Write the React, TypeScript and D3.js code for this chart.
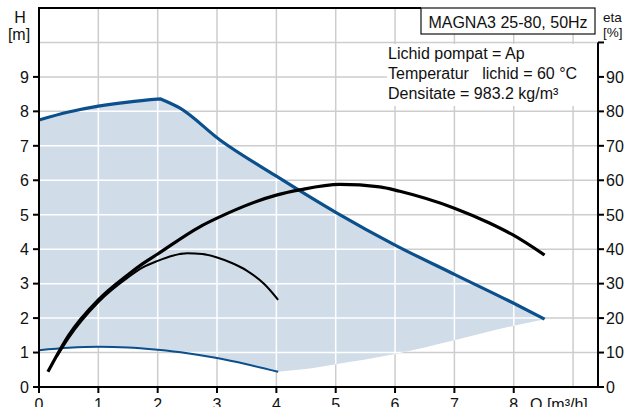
import React from "react";
import * as d3 from "d3";

// ---- data ----
const maxLeftQ = [0, 0.5, 1, 1.5, 2.05];
const maxLeftH = [7.75, 7.98, 8.15, 8.27, 8.36];
const maxRightQ = [2.05, 2.37, 3.05, 4, 5, 6, 7, 8, 8.52];
const maxRightH = [8.36, 8.1, 7.17, 6.12, 5.07, 4.12, 3.27, 2.43, 1.97];

const minCurveQ = [0, 0.5, 1, 1.5, 2, 2.5, 3, 3.5, 4.03];
const minCurveH = [1.07, 1.14, 1.17, 1.15, 1.08, 0.98, 0.84, 0.66, 0.44];

const lowerEdgeQ = [4.03, 4.7, 5, 6, 7, 8, 8.52];
const lowerEdgeH = [0.44, 0.57, 0.66, 0.96, 1.36, 1.78, 1.97];

const etaBigQ = [0.15, 0.5, 1, 1.5, 1.75, 2, 2.71, 3, 4, 4.39, 5.07, 5.74, 6.08, 7, 7.59, 7.98, 8.52];
const etaBigV = [4.4, 15, 25.3, 32.6, 35.8, 38.6, 46.5, 49, 55.7, 57.2, 58.8, 58.1, 56.8, 51.9, 47.6, 44.2, 38.3];

const etaSmallQ = [0.3, 0.5, 1, 1.5, 1.75, 2, 2.25, 2.5, 2.75, 3, 3.25, 3.5, 3.8, 4.03];
const etaSmallV = [8.8, 14.2, 24.6, 31.8, 34.7, 36.6, 38.1, 38.8, 38.6, 37.6, 36, 33.8, 29.8, 25.3];

const xTicks = [0, 1, 2, 3, 4, 5, 6, 7, 8];
const xGrid = [1, 2, 3, 4, 5, 6, 7, 8, 9];
const hTicks = [0, 1, 2, 3, 4, 5, 6, 7, 8, 9];
const hGrid = [1, 2, 3, 4, 5, 6, 7, 8, 9, 10];
const etaTicks = [0, 10, 20, 30, 40, 50, 60, 70, 80, 90];

const titleText = "MAGNA3 25-80, 50Hz";
const infoLines = ["Lichid pompat = Ap", "Temperatur   lichid = 60 °C", "Densitate = 983.2 kg/m³"];

const BLUE = "#0b4f8c";
const FILL = "#d0dce8";
const GRID = "#cdcdcd";
const FONT = "'Liberation Sans', Arial, sans-serif";

type P = [number, number];

export default function App() {
  const W = 633, H = 407;
  const x0 = 39, x1 = 598, y0 = 387, y1 = 8;
  const x = d3.scaleLinear().domain([0, 9.42]).range([x0, x1]);
  const y = d3.scaleLinear().domain([0, 11]).range([y0, y1]);
  const ye = d3.scaleLinear().domain([0, 110]).range([y0, y1]);

  const zip = (a: number[], b: number[]): P[] => a.map((q, i) => [q, b[i]]);
  const maxL = zip(maxLeftQ, maxLeftH);
  const maxR = zip(maxRightQ, maxRightH);
  const minPts = zip(minCurveQ, minCurveH);
  const lowPts = zip(lowerEdgeQ, lowerEdgeH);

  const smooth = d3.line<P>().x(d => x(d[0])).y(d => y(d[1])).curve(d3.curveMonotoneX);
  const etaLine = d3.line<P>().x(d => x(d[0])).y(d => ye(d[1])).curve(d3.curveMonotoneX);

  const pL = smooth(maxL) || "";
  const pR = smooth(maxR) || "";
  const maxPath = pL + "L" + pR.slice(1);
  const lowRev = smooth(lowPts.slice().reverse()) || "";
  const minRev = smooth(minPts.slice().reverse()) || "";
  const areaPath = maxPath + "L" + lowRev.slice(1) + "L" + minRev.slice(1) + "Z";

  const bigPts = zip(etaBigQ, etaBigV);
  const smallPts = zip(etaSmallQ, etaSmallV);

  const gridLines = (stroke: string) => (
    <g stroke={stroke} strokeWidth={1.5}>
      {xGrid.map(v => <line key={"vx" + v} x1={x(v)} x2={x(v)} y1={y1} y2={y0} />)}
      {hGrid.map(v => <line key={"hy" + v} x1={x0} x2={x1} y1={y(v)} y2={y(v)} />)}
    </g>
  );

  return (
    <svg width={W} height={H} style={{ position: "fixed", left: 0, top: 0, background: "#fff" }} fontFamily={FONT}>
      <defs>
        <clipPath id="areaClip"><path d={areaPath} /></clipPath>
      </defs>
      <rect x={0} y={0} width={W} height={H} fill="#fff" />
      {gridLines(GRID)}
      <path d={areaPath} fill={FILL} stroke="none" />
      <g clipPath="url(#areaClip)">{gridLines("#ffffff")}</g>

      {/* info text background */}
      <rect x={387} y={44} width={210} height={62} fill="#fff" />
      {infoLines.map((t, i) => (
        <text key={t} x={388} y={58.5 + i * 20} fontSize={16} fill="#111" style={{ whiteSpace: "pre" }}>{t}</text>
      ))}

      {/* title box */}
      <rect x={421} y={8} width={174} height={26} fill="#fff" stroke="#111" strokeWidth={1.2} />
      <text x={508} y={27.5} fontSize={16} textAnchor="middle" fill="#111">{titleText}</text>

      {/* curves */}
      <path d={maxPath} fill="none" stroke={BLUE} strokeWidth={3.2} strokeLinejoin="round" />
      <path d={smooth(minPts) || ""} fill="none" stroke={BLUE} strokeWidth={2} />
      <path d={etaLine(smallPts) || ""} fill="none" stroke="#000" strokeWidth={2} />
      <path d={etaLine(bigPts) || ""} fill="none" stroke="#000" strokeWidth={3.2} />

      {/* axes frame */}
      <g stroke="#000" strokeWidth={2}>
        <line x1={x0} x2={x0} y1={y1 - 1} y2={y0 + 1} />
        <line x1={x0} x2={x1 + 1} y1={y0} y2={y0} />
        <line x1={x0} x2={421} y1={y1} y2={y1} />
        <line x1={x1} x2={x1} y1={ye(100)} y2={y0 + 1} />
        {hTicks.map(v => <line key={"lt" + v} x1={x0 - 6} x2={x0} y1={y(v)} y2={y(v)} />)}
        {etaTicks.concat([100]).map(v => <line key={"rt" + v} x1={x1} x2={x1 + 6} y1={ye(v)} y2={ye(v)} />)}
        {xTicks.map(v => <line key={"bt" + v} x1={x(v)} x2={x(v)} y1={y0} y2={y0 + 6} />)}
      </g>

      {/* tick labels */}
      <g fontSize={16} fill="#111">
        {hTicks.map(v => (
          <text key={"ll" + v} x={29} y={y(v) + 5.8} textAnchor="end">{v}</text>
        ))}
        {etaTicks.map(v => (
          <text key={"rl" + v} x={606} y={ye(v) + 5.8} textAnchor="start">{v}</text>
        ))}
        {xTicks.map(v => (
          <text key={"bl" + v} x={x(v)} y={410} textAnchor="middle">{v}</text>
        ))}
        <text x={530} y={410}>Q [m³/h]</text>
        <text x={20} y={22.7} textAnchor="middle">H</text>
        <text x={19} y={39.5} textAnchor="middle">[m]</text>
      </g>
      <g fontSize={13.5} fill="#111">
        <text x={603} y={22}>eta</text>
        <text x={603} y={37}>[%]</text>
      </g>
    </svg>
  );
}
